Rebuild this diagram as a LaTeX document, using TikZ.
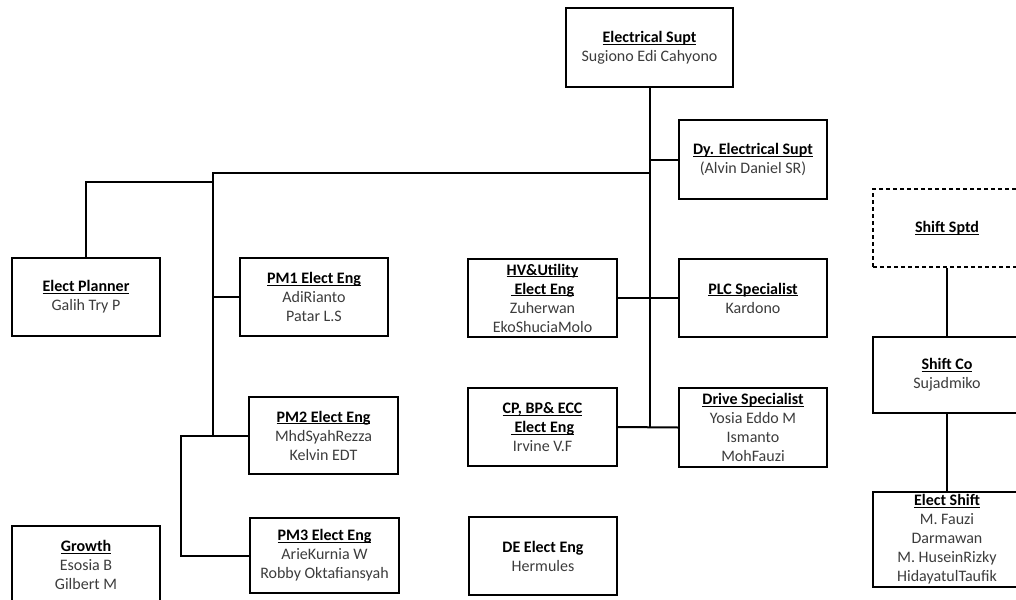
\documentclass[tikz,border=0pt]{standalone}
\usepackage{fontspec}
\setmainfont{Carlito}
\definecolor{nm}{RGB}{60,60,60}
\newcommand\ttl[1]{{\color{black}\bfseries\setbox0\hbox{#1}\rlap{\rule[-2.4pt]{\wd0}{1.1pt}}\box0}}
\begin{document}
\begin{tikzpicture}[x=1pt,y=-1pt,
  box/.style={draw, line width=2pt, inner sep=0pt, align=center,
    minimum width=148pt, minimum height=78pt,
    font=\fontsize{16}{19}\selectfont, text=nm},
  dbox/.style={box, dash pattern=on 4pt off 3pt},
  conn/.style={line width=2pt}]
\useasboundingbox (0,0) rectangle (1016,599);
\clip (0,0) rectangle (1016,599);
% boxes
\node[box, minimum width=167pt, minimum height=79pt] (sup) at (649.5,47.5) {\ttl{Electrical Supt}\\Sugiono Edi Cahyono};
\node[box, minimum height=79pt] (dy) at (753,159.5) {\ttl{Dy. Electrical Supt}\\(Alvin Daniel SR)};
\node[box] (planner) at (86,297) {\ttl{Elect Planner}\\Galih Try P};
\node[box] (pm1) at (314,297) {\ttl{PM1 Elect Eng}\\AdiRianto\\Patar L.S};
\node[box, minimum width=149pt, minimum height=77pt] (pm2) at (323.5,435.5) {\ttl{PM2 Elect Eng}\\MhdSyahRezza\\Kelvin EDT};
\node[box, minimum width=149pt, minimum height=75pt] (pm3) at (324.5,555.5) {\ttl{PM3 Elect Eng}\\ArieKurnia W\\Robby Oktafiansyah};
\node[box] (growth) at (86,565) {\ttl{Growth}\\Esosia B\\Gilbert M};
\node[box, minimum width=149pt] (hv) at (542.5,298) {\ttl{HV\&Utility}\\\ttl{\ Elect Eng}\\Zuherwan\\EkoShuciaMolo};
\node[box] (plc) at (753,298) {\ttl{PLC Specialist}\\Kardono};
\node[box, minimum width=149pt] (cp) at (542.5,427) {\ttl{CP, BP\& ECC}\\\ttl{\ Elect Eng}\\Irvine V.F};
\node[box, minimum height=79pt] (drive) at (753,427.5) {\ttl{Drive Specialist}\\Yosia Eddo M\\Ismanto\\MohFauzi};
\node[box] (de) at (543,556) {{\color{black}\bfseries DE Elect Eng}\\Hermules};
\node[dbox] (sptd) at (947,228) {\ttl{Shift Sptd}};
\node[box, minimum height=76pt] (shiftco) at (947,375) {\ttl{Shift Co}\\Sujadmiko};
\node[box, minimum height=95pt] (eshift) at (947,539.5) {\ttl{Elect Shift}\\M. Fauzi\\Darmawan\\M. HuseinRizky\\HidayatulTaufik};
% junction coordinates
\coordinate (vend) at (sup.south |- cp.east);
\coordinate (ltop) at (213,173);
\coordinate (lbot) at (213,435.5);
\coordinate (pj) at (213,182);
\coordinate (b1) at (181,435.5);
% connectors
\draw[conn] (sup.south) -- (vend);
\draw[conn] (dy.west) -- (sup.south |- dy.west);
\draw[conn] (hv.east) -- (plc.west);
\draw[conn] (cp.east) -- (drive.west);
\draw[conn] (sup.south |- ltop) -- (ltop) -- (lbot);
\draw[conn] (planner.north) |- (pj);
\draw[conn] (pm1.west) -- (pm1.west -| ltop);
\draw[conn] (pm2.west) -- (b1) |- (pm3.west);
\draw[conn] (sptd.south) -- (shiftco.north);
\draw[conn] (shiftco.south) -- (eshift.north);
\end{tikzpicture}
\end{document}
